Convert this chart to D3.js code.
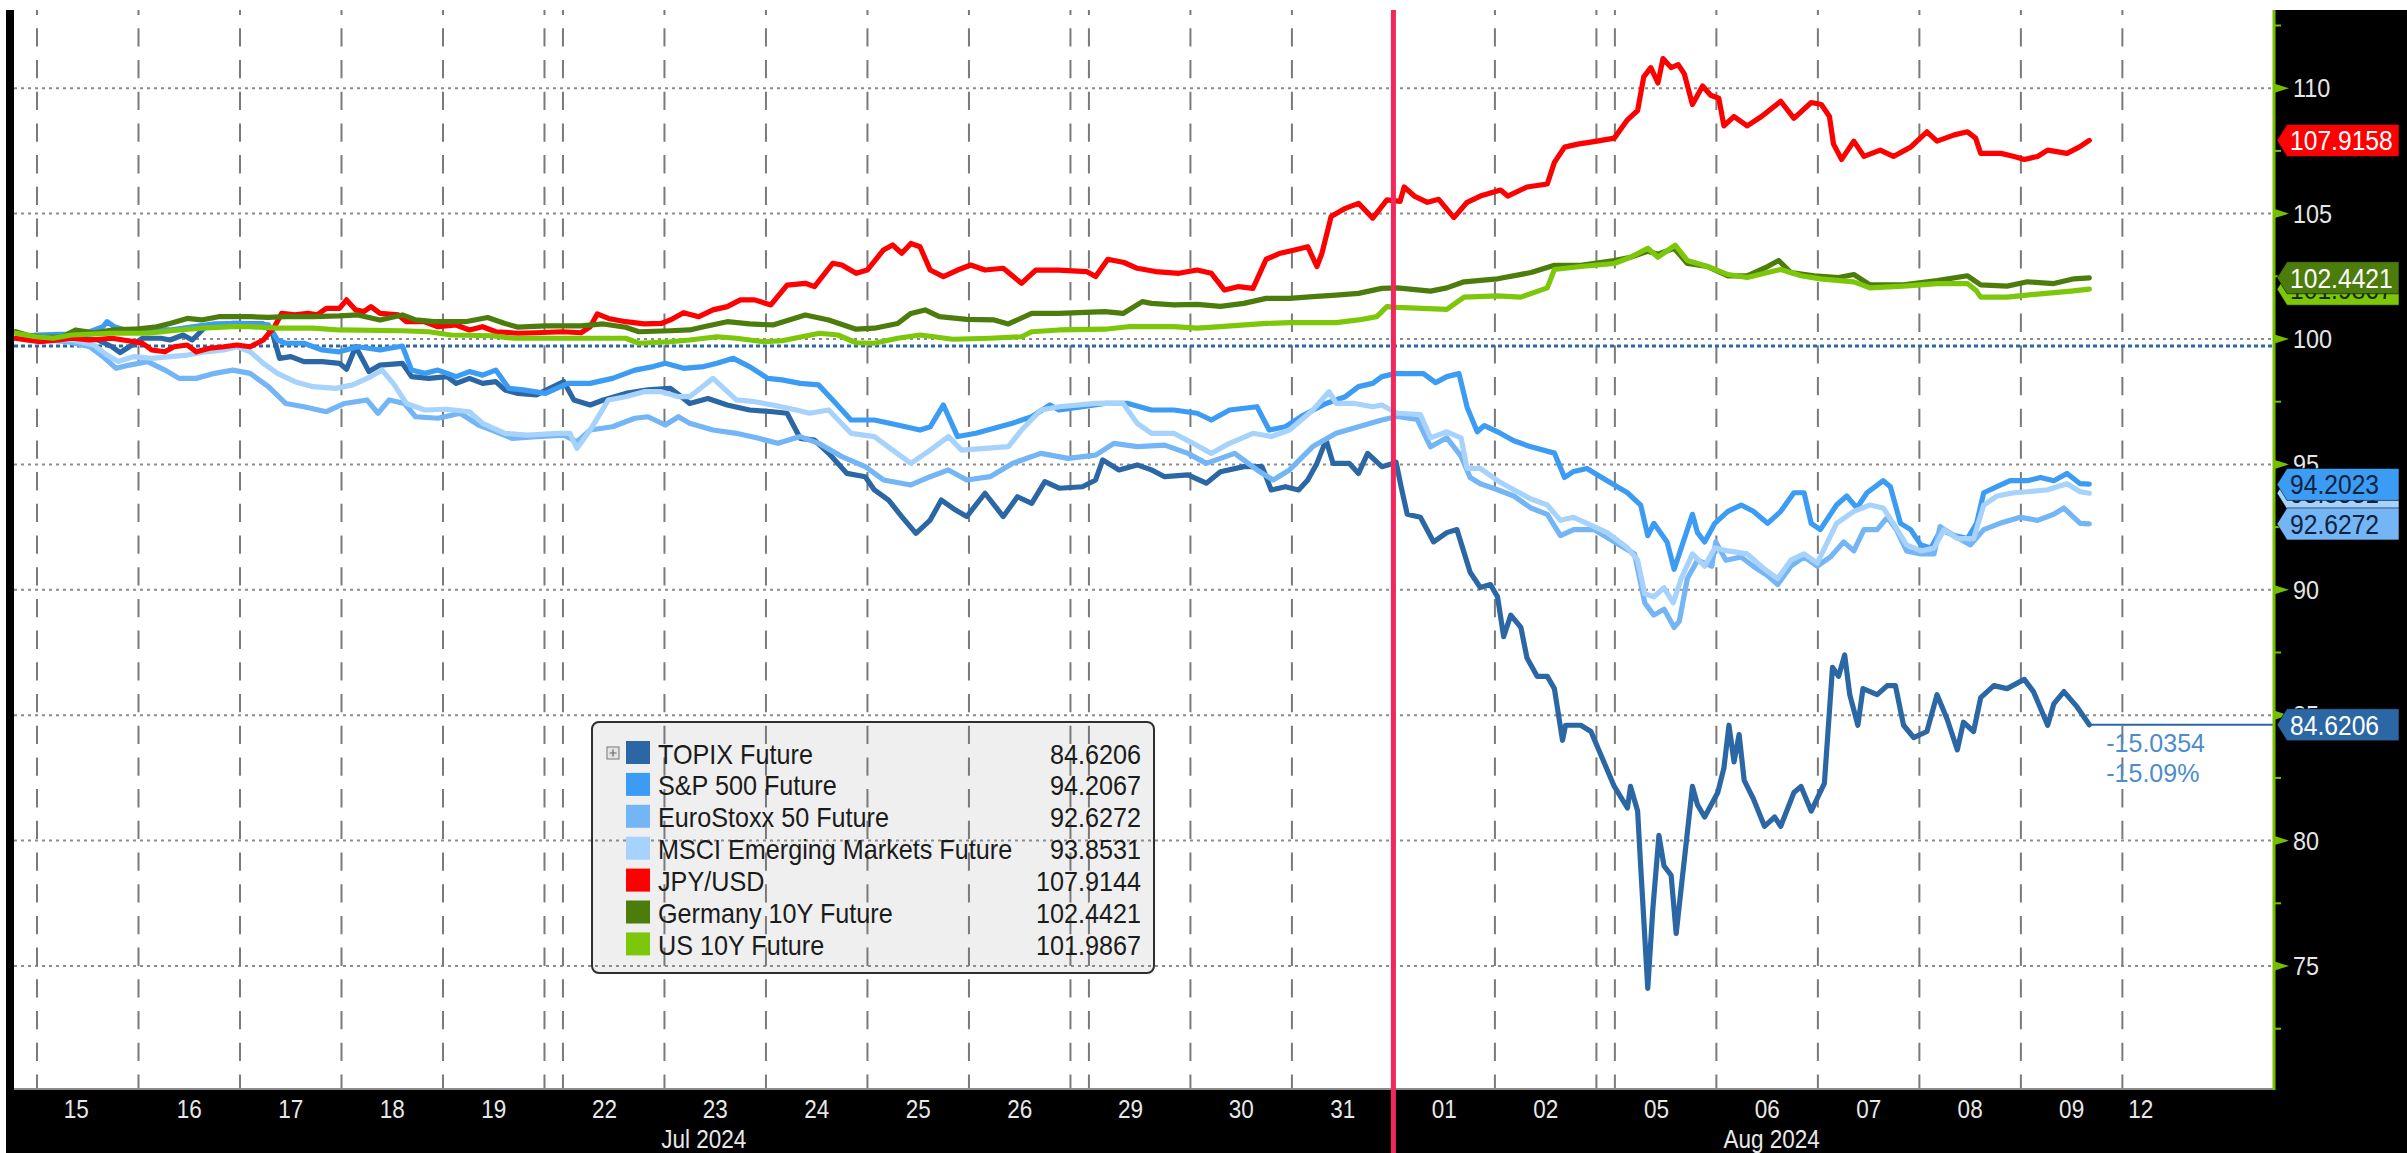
<!DOCTYPE html>
<html>
<head>
<meta charset="utf-8">
<script src="https://cdn.jsdelivr.net/npm/d3@7"></script>
<style>
  body { margin: 0; background: #fff; }
  svg { display: block; }
  text { font-family: "Liberation Sans", Arial, sans-serif; }
</style>
</head>
<body>
<svg id="chart" width="2407" height="1153"></svg>
<script>
// ---- data: [trading-day time, index level] ----
// time axis: 0 = open of Jul 15, one unit per trading day, weekends squeezed to a small gap
const tradingDays = ['15','16','17','18','19','22','23','24','25','26','29','30','31','01','02','05','06','07','08','09','12'];
const weekendAfter = ['19','26','02','09'];
const monthLabels = ['Jul 2024', 'Aug 2024'];
const yTicks = [75, 80, 85, 90, 95, 100, 105, 110];
const yMinorTicks = [72.5, 77.5, 82.5, 87.5, 92.5, 97.5, 102.5, 107.5, 112.5];
const baseLevel = 99.72;

const seriesNames = ['TOPIX Future', 'S&P 500 Future', 'EuroStoxx 50 Future', 'MSCI Emerging Markets Future', 'JPY/USD', 'Germany 10Y Future', 'US 10Y Future'];
const legendValues = [84.6206, 94.2067, 92.6272, 93.8531, 107.9144, 102.4421, 101.9867];
const flagValues = [84.6206, 94.2023, 92.6272, 93.8531, 107.9158, 102.4421, 101.9867];
const topixChange = ['-15.0354', '-15.09%'];

const topixFuture = [[-0.21,100.03],[0.07,100.09],[0.34,100.09],[0.60,99.96],[0.74,99.69],[0.82,99.46],[0.91,99.69],[1.04,100.03],[1.22,100.03],[1.31,99.96],[1.44,100.16],[1.53,99.96],[1.66,100.49],[1.93,100.62],[2.23,100.60],[2.32,100.23],[2.39,99.23],[2.50,99.30],[2.63,99.10],[2.81,99.10],[2.98,99.03],[3.05,98.79],[3.14,99.69],[3.21,99.16],[3.27,98.70],[3.38,98.96],[3.60,99.03],[3.69,98.50],[3.86,98.43],[4.04,98.50],[4.13,98.23],[4.26,98.43],[4.39,98.23],[4.52,98.30],[4.61,97.97],[4.74,97.83],[4.92,97.77],[5.19,98.30],[5.29,97.57],[5.45,97.37],[5.58,97.57],[5.80,97.83],[6.02,97.97],[6.24,98.03],[6.37,97.63],
  [6.43,97.43],[6.61,97.63],[6.80,97.37],[7.02,97.17],[7.25,97.10],[7.39,97.04],[7.52,96.04],[7.66,95.97],[7.80,95.44],[7.98,94.64],[8.16,94.51],[8.25,93.98],[8.39,93.58],[8.52,92.92],[8.66,92.25],[8.80,92.78],[8.91,93.58],[9.05,93.18],[9.16,92.92],[9.34,93.85],[9.52,92.92],[9.66,93.71],[9.80,93.45],[9.93,94.31],[10.07,94.05],[10.30,94.11],[10.43,94.38],[10.50,95.18],[10.66,94.78],[10.84,94.98],[10.98,94.78],[11.11,94.51],[11.34,94.58],[11.52,94.25],[11.66,94.71],[11.89,94.91],[12.07,94.91],[12.16,93.98],[12.30,94.11],[12.43,93.98],[12.52,94.38],[12.61,95.04],[12.70,95.97],[12.77,95.04],[12.93,95.04],[13.02,94.64],[13.11,95.44],[13.25,94.91],[13.36,95.04],
  [13.39,95.09],[13.44,94.11],[13.50,93.01],[13.63,92.89],[13.76,91.91],[13.89,92.28],[13.99,92.40],[14.12,90.70],[14.22,90.09],[14.32,90.21],[14.39,89.72],[14.45,88.13],[14.52,88.99],[14.62,88.50],[14.68,87.28],[14.78,86.55],[14.88,86.55],[14.95,86.06],[15.03,84.00],[15.06,84.60],[15.21,84.60],[15.31,84.35],[15.54,82.16],[15.67,81.30],[15.70,82.16],[15.77,81.18],[15.80,78.99],[15.87,74.11],[15.92,77.28],[15.98,80.21],[16.03,78.99],[16.10,78.62],[16.15,76.30],[16.21,78.50],[16.31,82.16],[16.36,81.43],[16.43,80.94],[16.56,81.92],[16.62,82.89],[16.67,84.60],[16.72,83.14],[16.77,84.23],[16.82,82.40],[16.91,81.67],[17.02,80.57],[17.12,80.94],[17.18,80.57],[17.31,81.92],[17.38,82.16],[17.48,81.18],[17.61,82.28],[17.69,86.91],[17.75,86.55],[17.81,87.40],[17.86,85.82],[17.94,84.60],[17.99,86.06],[18.13,85.82],[18.23,86.18],[18.31,86.18],[18.39,84.60],[18.49,84.11],[18.62,84.35],[18.72,85.82],[18.82,84.84],[18.92,83.62],[18.98,84.72],[19.08,84.35],[19.15,85.70],[19.28,86.18],[19.41,86.06],[19.58,86.43],[19.67,85.94],[19.81,84.60],[19.87,85.45],[19.97,85.94],[20.10,85.33],[20.22,84.62]];

const sp500Future = [[-0.21,100.03],[-0.01,100.16],[0.30,100.20],[0.52,100.29],[0.65,100.49],[0.69,100.69],[0.76,100.49],[0.87,100.36],[1.04,100.39],[1.31,100.36],[1.53,100.49],[1.75,100.60],[2.01,100.62],[2.28,100.56],[2.37,99.96],[2.45,99.83],[2.63,99.83],[2.81,99.56],[2.98,99.49],[3.16,99.69],[3.38,99.56],[3.60,99.72],[3.69,98.76],[3.82,98.63],[3.95,98.76],[4.13,98.50],[4.26,98.70],[4.39,98.56],[4.52,98.76],[4.65,98.03],[4.79,97.97],[5.01,97.83],[5.23,98.23],[5.45,98.23],[5.67,98.43],[5.89,98.76],[6.07,98.90],[6.19,99.03],[6.37,98.83],
  [6.57,98.90],[6.70,99.03],[6.86,99.23],[7.02,98.90],[7.20,98.43],[7.34,98.37],[7.52,98.23],[7.70,98.17],[7.84,97.57],[8.02,96.77],[8.25,96.77],[8.48,96.57],[8.70,96.37],[8.80,96.50],[8.93,97.37],[9.07,96.11],[9.25,96.24],[9.43,96.44],[9.61,96.64],[9.80,96.90],[9.98,97.37],[10.07,97.17],[10.30,97.30],[10.52,97.43],[10.75,97.43],[10.98,97.17],[11.20,97.17],[11.43,97.04],[11.57,96.77],[11.75,97.17],[12.02,97.30],[12.14,96.37],[12.30,96.50],[12.48,96.97],[12.70,97.43],[12.89,97.70],[13.02,98.10],[13.16,98.23],[13.25,98.50],[13.39,98.63],
  [13.50,98.62],[13.66,98.62],[13.78,98.26],[13.89,98.50],[14.01,98.62],[14.09,97.28],[14.19,96.30],[14.26,96.55],[14.39,96.30],[14.55,95.94],[14.72,95.70],[14.95,95.45],[15.05,94.48],[15.14,94.72],[15.27,94.84],[15.47,94.35],[15.67,93.87],[15.80,93.38],[15.87,92.16],[15.93,92.65],[16.06,91.91],[16.13,90.82],[16.20,91.67],[16.31,93.01],[16.36,92.28],[16.43,91.91],[16.53,92.65],[16.66,93.13],[16.79,93.38],[16.91,93.13],[17.05,92.65],[17.18,93.13],[17.31,93.87],[17.41,93.87],[17.48,92.65],[17.57,92.40],
  [17.73,93.38],[17.83,93.74],[17.93,93.26],[18.03,93.87],[18.19,94.35],[18.26,94.11],[18.36,92.65],[18.46,92.40],[18.56,91.79],[18.66,91.67],[18.76,92.40],[18.89,92.16],[19.02,92.04],[19.11,92.65],[19.18,93.87],[19.31,94.11],[19.44,94.35],[19.61,94.35],[19.74,94.48],[19.87,94.35],[20.00,94.64],[20.13,94.23],[20.22,94.21]];

const euroStoxx50Future = [[-0.21,100.03],[0.07,99.96],[0.30,99.89],[0.52,99.69],[0.65,99.30],[0.78,98.83],[0.91,98.96],[1.09,99.10],[1.26,98.76],[1.40,98.43],[1.57,98.43],[1.75,98.63],[1.93,98.76],[2.10,98.63],[2.28,98.10],[2.45,97.43],[2.63,97.30],[2.85,97.10],[3.03,97.43],[3.25,97.57],[3.36,97.04],[3.47,97.57],[3.62,97.43],[3.73,96.90],[3.95,96.84],[4.17,97.04],[4.35,96.57],[4.48,96.37],[4.68,96.04],[4.92,96.11],[5.19,96.17],[5.32,95.90],[5.45,96.37],[5.67,96.50],[5.89,96.84],[6.02,96.90],[6.19,96.57],[6.32,96.90],
  [6.43,96.64],[6.66,96.37],[6.89,96.24],[7.11,96.04],[7.30,95.84],[7.52,96.11],[7.70,95.84],[7.93,95.31],[8.16,94.91],[8.34,94.38],[8.61,94.18],[8.80,94.51],[8.98,94.78],[9.16,94.38],[9.39,94.51],[9.61,95.04],[9.89,95.44],[10.16,95.24],[10.43,95.37],[10.61,95.84],[10.84,95.71],[11.11,95.77],[11.34,95.44],[11.52,95.04],[11.80,95.44],[12.02,94.78],[12.18,94.38],[12.34,94.78],[12.57,95.71],[12.80,96.24],[13.02,96.50],[13.25,96.77],
  [13.40,96.91],[13.60,96.79],[13.73,95.70],[13.89,96.06],[14.03,95.33],[14.12,94.48],[14.22,94.23],[14.39,93.99],[14.55,93.74],[14.72,93.26],[14.88,93.01],[15.01,92.16],[15.14,92.40],[15.34,92.40],[15.54,91.91],[15.74,91.43],[15.84,89.48],[15.93,88.99],[16.03,89.23],[16.13,88.50],[16.18,88.74],[16.26,90.45],[16.36,91.18],[16.50,90.94],[16.54,91.91],[16.64,91.18],[16.79,91.31],[16.91,90.94],[17.05,90.57],[17.15,90.21],[17.28,90.94],[17.41,91.31],[17.54,90.94],[17.67,91.31],
  [17.80,91.91],[17.90,91.55],[18.00,92.40],[18.13,92.40],[18.23,92.89],[18.32,92.40],[18.42,91.55],[18.56,91.43],[18.69,91.43],[18.75,92.52],[18.89,92.16],[19.05,91.79],[19.18,92.40],[19.34,92.65],[19.54,92.89],[19.71,92.77],[19.87,93.01],[19.97,93.26],[20.13,92.65],[20.22,92.63]];

const msciEmFuture = [[-0.21,100.03],[0.07,99.99],[0.34,99.96],[0.56,99.76],[0.69,99.36],[0.80,99.10],[0.96,99.30],[1.13,99.23],[1.31,99.30],[1.48,99.36],[1.66,99.49],[1.84,99.56],[1.97,99.69],[2.10,99.49],[2.23,99.03],[2.37,98.63],[2.54,98.30],[2.72,98.10],[2.94,98.03],[3.11,98.17],[3.29,98.50],[3.40,98.76],[3.51,98.23],[3.64,97.43],[3.82,97.17],[4.04,97.20],[4.26,97.10],[4.39,96.64],[4.61,96.24],[4.83,96.17],[5.14,96.24],[5.25,96.24],[5.32,95.64],[5.45,96.37],[5.63,97.57],[5.80,97.70],[5.98,97.90],[6.15,97.90],[6.32,97.70],
  [6.43,97.70],[6.66,98.43],[6.89,97.57],[7.07,97.50],[7.25,97.37],[7.48,97.17],[7.61,97.04],[7.80,97.17],[8.02,96.24],[8.25,96.11],[8.43,95.57],[8.61,95.04],[8.80,95.57],[8.98,96.11],[9.11,95.57],[9.34,95.64],[9.57,95.71],[9.70,96.37],[9.89,97.17],[10.07,97.30],[10.43,97.43],[10.70,97.43],[10.84,96.64],[10.98,96.24],[11.20,96.24],[11.39,95.84],[11.57,95.44],[11.75,95.84],[11.98,96.24],[12.16,96.11],[12.34,96.37],[12.57,97.17],[12.73,97.90],[12.80,97.43],[12.98,97.43],[13.16,97.30],[13.25,97.37],
  [13.40,97.04],[13.63,96.99],[13.73,96.06],[13.89,96.30],[14.03,96.06],[14.09,94.84],[14.22,94.84],[14.39,94.35],[14.55,93.99],[14.72,93.62],[14.88,93.38],[15.01,92.77],[15.14,92.89],[15.27,92.65],[15.47,92.28],[15.67,91.67],[15.77,91.18],[15.84,89.84],[15.93,89.72],[16.03,90.08],[16.12,89.48],[16.20,90.45],[16.31,91.43],[16.43,90.94],[16.53,91.67],[16.66,91.55],[16.85,91.43],[17.02,90.82],[17.15,90.45],[17.28,91.18],[17.41,91.43],[17.54,91.06],
  [17.73,92.65],[17.90,93.13],[18.06,93.38],[18.19,93.26],[18.29,92.65],[18.42,91.79],[18.56,91.55],[18.69,91.67],[18.79,92.40],[18.92,92.04],[19.08,92.04],[19.18,93.38],[19.31,93.74],[19.48,93.87],[19.61,93.91],[19.81,93.99],[20.00,94.23],[20.13,93.91],[20.22,93.85]];

const jpyUsd = [[-0.21,100.03],[-0.10,99.96],[0.03,99.89],[0.21,99.96],[0.34,100.03],[0.52,99.96],[0.74,100.03],[0.96,99.89],[1.04,99.83],[1.13,99.56],[1.26,99.49],[1.35,99.69],[1.48,99.76],[1.57,99.49],[1.70,99.63],[1.84,99.69],[1.97,99.76],[2.10,99.69],[2.23,99.96],[2.34,100.49],[2.41,101.02],[2.54,100.96],[2.67,101.02],[2.76,100.96],[2.85,101.22],[2.98,101.22],[3.05,101.56],[3.14,101.16],[3.22,101.09],[3.29,101.29],[3.38,101.02],[3.56,100.96],[3.64,100.69],[3.82,100.69],[3.95,100.49],[4.13,100.56],[4.26,100.36],[4.39,100.49],[4.52,100.29],[4.74,100.23],[4.92,100.25],[5.18,100.29],[5.36,100.25],[5.45,100.49],[5.52,101.00],[5.63,100.82],[5.80,100.69],[5.98,100.60],[6.15,100.62],[6.24,100.76],[6.37,101.05],
  [6.52,100.89],[6.66,101.16],[6.80,101.29],[6.93,101.56],[7.07,101.56],[7.23,101.36],[7.39,102.15],[7.57,102.22],[7.66,102.09],[7.84,103.02],[7.93,102.95],[8.07,102.62],[8.18,102.75],[8.34,103.55],[8.43,103.75],[8.52,103.42],[8.61,103.81],[8.70,103.68],[8.80,102.75],[8.93,102.49],[9.07,102.75],[9.20,102.95],[9.34,102.75],[9.52,102.82],[9.70,102.22],[9.84,102.75],[10.07,102.75],[10.34,102.69],[10.43,102.49],[10.55,103.18],[10.71,103.05],[10.84,102.82],[11.02,102.69],[11.25,102.62],[11.43,102.75],[11.57,102.62],[11.70,101.95],[11.84,102.09],[11.98,102.02],[12.11,103.18],[12.25,103.42],[12.39,103.55],[12.52,103.68],[12.61,102.89],[12.66,103.42],[12.75,104.88],[12.89,105.21],[13.02,105.41],[13.16,104.82],[13.30,105.55],[13.43,105.49],
  [13.47,106.06],[13.57,105.70],[13.70,105.45],[13.81,105.57],[13.96,104.84],[14.09,105.45],[14.22,105.70],[14.42,105.94],[14.49,105.70],[14.68,106.06],[14.88,106.18],[14.95,107.04],[15.05,107.65],[15.18,107.77],[15.37,107.89],[15.54,108.01],[15.67,108.74],[15.77,109.11],[15.83,110.45],[15.90,110.82],[15.97,110.21],[16.02,111.18],[16.10,110.82],[16.17,110.94],[16.23,110.57],[16.31,109.35],[16.41,110.09],[16.49,109.72],[16.57,109.60],[16.62,108.50],[16.72,108.87],[16.85,108.50],[16.99,108.87],[17.18,109.48],[17.31,108.80],[17.48,109.43],[17.58,109.35],[17.66,108.87],
  [17.70,107.77],[17.78,107.16],[17.90,107.89],[18.00,107.28],[18.16,107.53],[18.29,107.28],[18.46,107.65],[18.62,108.26],[18.72,107.89],[18.89,108.14],[19.02,108.26],[19.10,108.01],[19.15,107.40],[19.35,107.40],[19.48,107.28],[19.58,107.16],[19.71,107.28],[19.81,107.53],[20.00,107.40],[20.12,107.65],[20.22,107.92]];

const germany10yFuture = [[-0.21,100.29],[-0.10,100.16],[0.07,100.07],[0.25,100.09],[0.38,100.36],[0.56,100.25],[0.74,100.36],[0.96,100.39],[1.18,100.49],[1.31,100.62],[1.48,100.82],[1.62,100.76],[1.79,100.89],[2.10,100.89],[2.28,100.86],[2.45,100.89],[2.72,100.89],[2.98,100.92],[3.16,100.96],[3.38,100.76],[3.60,100.96],[3.73,100.76],[3.91,100.69],[4.22,100.69],[4.44,100.86],[4.61,100.62],[4.74,100.47],[5.01,100.52],[5.36,100.52],[5.58,100.60],[5.80,100.47],[5.93,100.29],[6.24,100.33],
  [6.43,100.36],[6.57,100.49],[6.80,100.69],[7.02,100.60],[7.25,100.56],[7.57,100.96],[7.80,100.76],[8.07,100.39],[8.25,100.43],[8.48,100.62],[8.61,101.02],[8.75,101.16],[8.89,100.89],[9.16,100.78],[9.43,100.76],[9.57,100.60],[9.80,101.02],[10.07,101.02],[10.52,101.09],[10.70,101.02],[10.89,101.49],[10.98,101.42],[11.20,101.36],[11.43,101.38],[11.66,101.30],[11.89,101.42],[12.11,101.62],[12.34,101.62],[12.57,101.69],[12.80,101.75],[13.02,101.82],[13.25,102.02],
  [13.40,102.04],[13.73,101.91],[13.89,102.04],[14.06,102.28],[14.39,102.40],[14.72,102.65],[14.95,102.94],[15.21,102.94],[15.54,103.13],[15.70,103.26],[15.87,103.50],[15.97,103.38],[16.13,103.62],[16.26,103.01],[16.46,102.89],[16.66,102.52],[16.85,102.52],[17.05,102.89],[17.16,103.13],[17.28,102.65],[17.51,102.52],
  [17.75,102.45],[17.90,102.57],[18.06,102.16],[18.39,102.16],[18.72,102.33],[19.02,102.52],[19.15,102.16],[19.41,102.11],[19.61,102.28],[19.87,102.21],[20.07,102.40],[20.22,102.44]];

const us10yFuture = [[-0.21,100.23],[-0.01,100.09],[0.16,100.03],[0.34,100.16],[0.74,100.23],[1.09,100.23],[1.40,100.36],[1.62,100.43],[1.93,100.49],[2.10,100.49],[2.37,100.43],[2.72,100.43],[2.98,100.36],[3.60,100.33],[3.86,100.29],[4.08,100.16],[4.48,100.13],[4.70,100.03],[5.14,100.03],[5.80,100.03],[5.93,99.83],[6.24,99.89],
  [6.43,99.96],[6.70,100.09],[6.89,100.03],[7.16,99.89],[7.34,99.93],[7.71,100.23],[7.89,100.16],[8.07,99.85],[8.25,99.83],[8.48,100.03],[8.70,100.16],[8.84,100.09],[9.02,99.99],[9.39,100.03],[9.70,100.09],[9.80,100.29],[10.07,100.36],[10.52,100.39],[10.75,100.49],[11.20,100.49],[11.43,100.43],[11.66,100.49],[12.11,100.62],[12.34,100.65],[12.80,100.65],[13.02,100.76],[13.20,100.89],[13.30,101.29],
  [13.40,101.26],[13.89,101.18],[14.06,101.67],[14.39,101.72],[14.62,101.67],[14.88,102.04],[14.95,102.77],[15.21,102.89],[15.54,103.01],[15.70,103.26],[15.87,103.62],[15.97,103.26],[16.14,103.74],[16.26,103.13],[16.46,102.89],[16.66,102.57],[16.85,102.45],[17.05,102.65],[17.18,102.77],[17.38,102.52],
  [17.57,102.40],[17.90,102.28],[18.06,102.04],[18.39,102.11],[18.72,102.21],[19.02,102.21],[19.11,101.91],[19.15,101.67],[19.41,101.67],[19.71,101.79],[20.04,101.91],[20.22,101.99]];

const seriesData = [topixFuture, sp500Future, euroStoxx50Future, msciEmFuture, jpyUsd, germany10yFuture, us10yFuture];

// ---- styling ----
const colors = ['#2b67a4', '#3c9cf4', '#74b5f5', '#a6d2fb', '#ff0000', '#4c7d0c', '#7cc70a'];
const flagText = ['#ffffff', '#0c2340', '#0c2340', '#0c2340', '#ffffff', '#ffffff', '#1d2b00'];
const axisGreen = '#74c000';
const W = 2407, H = 1153;
const plot = { left: 14, right: 2273, top: 10, bottom: 1090 };
const weekendGap = 0.182;

const svg = d3.select('#chart');
const x = d3.scaleLinear().domain([-0.2266, 22.03]).range([plot.left, plot.right]);
const y = d3.scaleLinear().domain([70.056, 113.118]).range([plot.bottom, plot.top]);

// trading-day start times
const dayStart = [];
let t = 0;
tradingDays.forEach(d => {
  dayStart.push(t);
  t += 1;
  if (weekendAfter.includes(d)) t += weekendGap;
});
const startOf = d => dayStart[tradingDays.indexOf(d)];

function label(g, str, px, py, size, k, anchor, fill) {
  return g.append('text')
    .attr('transform', `translate(${px},${py}) scale(${k},1)`)
    .attr('text-anchor', anchor)
    .style('font-size', size + 'px')
    .attr('fill', fill)
    .text(str);
}

svg.append('rect').attr('width', W).attr('height', H).attr('fill', '#fff');
svg.append('defs').append('clipPath').attr('id', 'clip')
  .append('rect').attr('x', plot.left).attr('y', plot.top)
  .attr('width', plot.right - plot.left).attr('height', plot.bottom - plot.top);

// legend box (grid shows through on top of it)
const legend = { left: 592, top: 722, width: 562, height: 251, row: 31.9 };
svg.append('rect')
  .attr('x', legend.left).attr('y', legend.top)
  .attr('width', legend.width).attr('height', legend.height)
  .attr('rx', 7).attr('fill', '#efefef').attr('stroke', '#2e2e2e').attr('stroke-width', 2);

// grid
const grid = svg.append('g');
grid.selectAll('line.h').data(yTicks).enter().append('line')
  .attr('x1', plot.left).attr('x2', plot.right)
  .attr('y1', d => y(d)).attr('y2', d => y(d))
  .attr('stroke', '#8c8c8c').attr('stroke-width', 2).attr('stroke-dasharray', '3,4');

const vLines = [];
tradingDays.slice(0, -1).forEach((d, i) => {
  vLines.push(dayStart[i]);
  if (weekendAfter.includes(d)) vLines.push(dayStart[i] + 1);
});
grid.selectAll('line.v').data(vLines).enter().append('line')
  .attr('x1', d => x(d)).attr('x2', d => x(d))
  .attr('y1', plot.top).attr('y2', plot.bottom)
  .attr('stroke', '#7a7a7a').attr('stroke-width', 2)
  .attr('stroke-dasharray', '18.3,13.4').attr('stroke-dashoffset', 13.4);

grid.append('line')
  .attr('x1', plot.left).attr('x2', plot.right)
  .attr('y1', y(baseLevel)).attr('y2', y(baseLevel))
  .attr('stroke', colors[0]).attr('stroke-width', 3).attr('stroke-dasharray', '4,3');

// legend contents
const lg = svg.append('g');
lg.append('rect').attr('x', 607).attr('y', legend.top + 25).attr('width', 12).attr('height', 12)
  .attr('fill', '#e4e4e4').attr('stroke', '#8a8a8a').attr('stroke-width', 1.2);
lg.append('path').attr('d', `M609.5,${legend.top + 31}h7M613,${legend.top + 27.5}v7`)
  .attr('stroke', '#666').attr('stroke-width', 1.2);
seriesNames.forEach((name, i) => {
  const base = legend.top + 41.5 + i * legend.row;
  lg.append('rect').attr('x', 626).attr('y', base - 22.5).attr('width', 24).attr('height', 23)
    .attr('fill', colors[i]);
  label(lg, name, 658, base, 28, 0.9, 'start', '#1b1b1b');
  label(lg, legendValues[i].toFixed(4), 1141, base, 28, 0.9, 'end', '#1b1b1b');
});

// series
const line = d3.line().x(d => x(d[0])).y(d => y(d[1]));
const lines = svg.append('g').attr('clip-path', 'url(#clip)');
seriesData.forEach((s, i) => {
  lines.append('path').datum(s)
    .attr('d', line)
    .attr('fill', 'none')
    .attr('stroke', colors[i])
    .attr('stroke-width', 5.2)
    .attr('stroke-linejoin', 'round')
    .attr('stroke-linecap', 'round');
});

// TOPIX last-value line and change annotation
const topixLast = topixFuture[topixFuture.length - 1];
svg.append('line')
  .attr('x1', x(topixLast[0])).attr('x2', plot.right)
  .attr('y1', y(flagValues[0])).attr('y2', y(flagValues[0]))
  .attr('stroke', colors[0]).attr('stroke-width', 2);
label(svg, topixChange[0], x(topixLast[0]) + 17, y(flagValues[0]) + 27, 25, 1, 'start', '#4d8ccb');
label(svg, topixChange[1], x(topixLast[0]) + 17, y(flagValues[0]) + 57, 25, 1, 'start', '#4d8ccb');

// frame
svg.append('rect').attr('x', plot.right).attr('y', plot.top).attr('width', W - plot.right).attr('height', H - plot.top).attr('fill', '#000');
svg.append('rect').attr('x', 6).attr('y', plot.bottom).attr('width', W - 6).attr('height', H - plot.bottom).attr('fill', '#000');
svg.append('rect').attr('x', 6).attr('y', plot.top).attr('width', plot.left - 6).attr('height', H - plot.top).attr('fill', '#000');
svg.append('line').attr('x1', plot.left).attr('x2', plot.right)
  .attr('y1', plot.bottom - 1).attr('y2', plot.bottom - 1)
  .attr('stroke', '#8a8a8a').attr('stroke-width', 2);

// right axis
const ax = svg.append('g');
ax.append('line').attr('x1', plot.right + 1).attr('x2', plot.right + 1)
  .attr('y1', plot.top).attr('y2', plot.bottom)
  .attr('stroke', axisGreen).attr('stroke-width', 3);
ax.selectAll('line.minor').data(yMinorTicks).enter().append('line')
  .attr('x1', plot.right).attr('x2', plot.right + 8)
  .attr('y1', d => y(d)).attr('y2', d => y(d))
  .attr('stroke', axisGreen).attr('stroke-width', 2);
ax.selectAll('path.major').data(yTicks).enter().append('path')
  .attr('d', d => `M${plot.right},${y(d) - 5}L${plot.right + 16},${y(d)}L${plot.right},${y(d) + 5}Z`)
  .attr('fill', axisGreen);
yTicks.forEach(v => label(ax, String(v), plot.right + 20, y(v) + 9, 26, 0.9, 'start', '#e6e6e6'));

// value flags (hidden ones first)
const flagOrder = [6, 5, 4, 3, 1, 2, 0];
flagOrder.forEach(i => {
  const cy = y(flagValues[i]);
  const tip = plot.right + 4, body = plot.right + 14, right = 2399;
  ax.append('path')
    .attr('d', `M${tip},${cy}L${body},${cy - 16}L${right},${cy - 16}L${right},${cy + 16}L${body},${cy + 16}Z`)
    .attr('fill', colors[i]).attr('stroke', 'rgba(0,0,0,0.55)').attr('stroke-width', 1);
  label(ax, flagValues[i].toFixed(4), plot.right + 17, cy + 10, 28, 0.88, 'start', flagText[i]);
});

// x axis labels
const xg = svg.append('g');
tradingDays.forEach((d, i) => {
  const last = i === tradingDays.length - 1;
  const from = i === 0 ? x.domain()[0] : dayStart[i - 1] + 1;
  const pos = last ? dayStart[i] : (from + dayStart[i] + 1) / 2;
  label(xg, d, x(pos), 1118, 25, 0.9, 'middle', '#e8e8e8');
});
const monthSpans = [
  [x.domain()[0], startOf('01')],
  [startOf('01'), startOf('12') + 0.09]
];
monthLabels.forEach((m, i) => {
  label(xg, m, x((monthSpans[i][0] + monthSpans[i][1]) / 2), 1148, 25, 0.9, 'middle', '#e8e8e8');
});

// event marker at the Aug 1 open
svg.append('line')
  .attr('x1', x(startOf('01'))).attr('x2', x(startOf('01')))
  .attr('y1', plot.top).attr('y2', H)
  .attr('stroke', '#f2275c').attr('stroke-width', 5);
</script>
</body>
</html>
